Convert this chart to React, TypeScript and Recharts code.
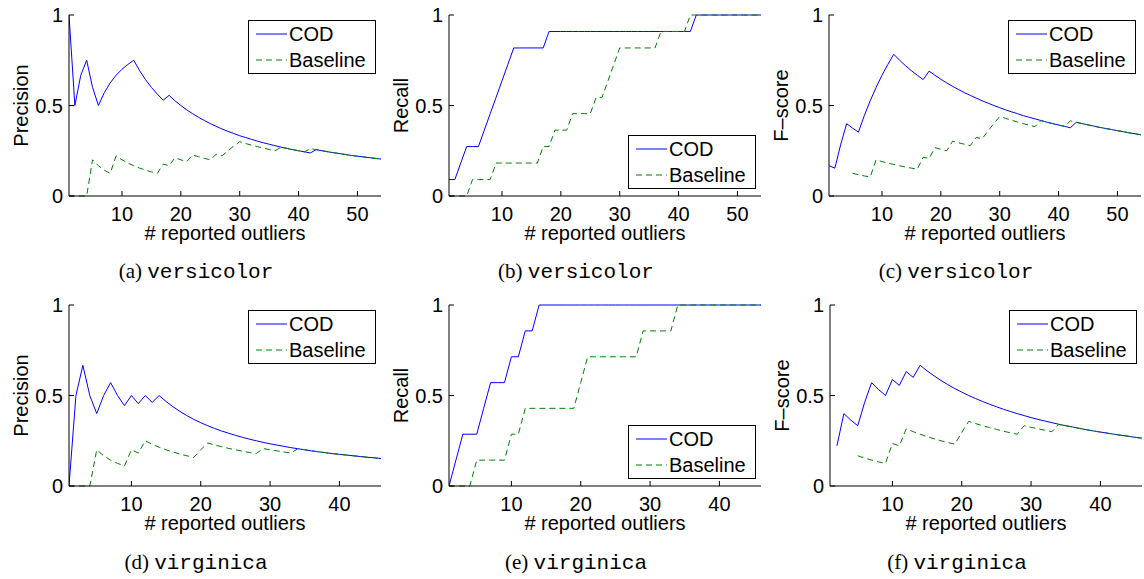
import React from "react";
import { Legend, Line, LineChart, XAxis, YAxis } from "recharts";

// # reported outliers
const versicolorK = [
  1, 2, 3, 4, 5, 6, 7, 8, 9, 10, 11, 12, 13, 14, 15, 16, 17, 18, 19, 20, 21, 22, 23, 24, 25, 26, 27,
  28, 29, 30, 31, 32, 33, 34, 35, 36, 37, 38, 39, 40, 41, 42, 43, 44, 45, 46, 47, 48, 49, 50, 51, 52,
  53, 54,
];
const virginicaK = [
  1, 2, 3, 4, 5, 6, 7, 8, 9, 10, 11, 12, 13, 14, 15, 16, 17, 18, 19, 20, 21, 22, 23, 24, 25, 26, 27,
  28, 29, 30, 31, 32, 33, 34, 35, 36, 37, 38, 39, 40, 41, 42, 43, 44, 45, 46,
];

// versicolor
const versicolorCodPrecision = [
  1.0, 0.5, 0.667, 0.75, 0.6, 0.5, 0.571, 0.625, 0.667, 0.7, 0.727, 0.75, 0.692, 0.643, 0.6, 0.563,
  0.529, 0.556, 0.526, 0.5, 0.476, 0.455, 0.435, 0.417, 0.4, 0.385, 0.37, 0.357, 0.345, 0.333, 0.323,
  0.313, 0.303, 0.294, 0.286, 0.278, 0.27, 0.263, 0.256, 0.25, 0.244, 0.238, 0.256, 0.25, 0.244, 0.239,
  0.234, 0.229, 0.224, 0.22, 0.216, 0.212, 0.208, 0.204,
];
const versicolorBasePrecision = [
  0, 0, 0, 0, 0.2, 0.167, 0.143, 0.125, 0.222, 0.2, 0.182, 0.167, 0.154, 0.143, 0.133, 0.125, 0.176,
  0.167, 0.211, 0.2, 0.19, 0.227, 0.217, 0.208, 0.2, 0.231, 0.222, 0.25, 0.276, 0.3, 0.29, 0.281, 0.273,
  0.265, 0.257, 0.25, 0.27, 0.263, 0.256, 0.25, 0.244, 0.262, 0.256, 0.25, 0.244, 0.239, 0.234, 0.229,
  0.224, 0.22, 0.216, 0.212, 0.208, 0.204,
];
const versicolorCodRecall = [
  0.091, 0.091, 0.182, 0.273, 0.273, 0.273, 0.364, 0.455, 0.545, 0.636, 0.727, 0.818, 0.818, 0.818,
  0.818, 0.818, 0.818, 0.909, 0.909, 0.909, 0.909, 0.909, 0.909, 0.909, 0.909, 0.909, 0.909, 0.909,
  0.909, 0.909, 0.909, 0.909, 0.909, 0.909, 0.909, 0.909, 0.909, 0.909, 0.909, 0.909, 0.909, 0.909, 1,
  1, 1, 1, 1, 1, 1, 1, 1, 1, 1, 1,
];
const versicolorBaseRecall = [
  0, 0, 0, 0, 0.091, 0.091, 0.091, 0.091, 0.182, 0.182, 0.182, 0.182, 0.182, 0.182, 0.182, 0.182,
  0.273, 0.273, 0.364, 0.364, 0.364, 0.455, 0.455, 0.455, 0.455, 0.545, 0.545, 0.636, 0.727, 0.818,
  0.818, 0.818, 0.818, 0.818, 0.818, 0.818, 0.909, 0.909, 0.909, 0.909, 0.909, 1, 1, 1, 1, 1, 1, 1, 1,
  1, 1, 1, 1, 1,
];
const versicolorCodF = [
  0.167, 0.154, 0.286, 0.4, 0.375, 0.353, 0.444, 0.526, 0.6, 0.667, 0.727, 0.783, 0.75, 0.72, 0.692,
  0.667, 0.643, 0.69, 0.667, 0.645, 0.625, 0.606, 0.588, 0.571, 0.556, 0.541, 0.526, 0.513, 0.5, 0.488,
  0.476, 0.465, 0.455, 0.444, 0.435, 0.426, 0.417, 0.408, 0.4, 0.392, 0.385, 0.377, 0.407, 0.4, 0.393,
  0.386, 0.379, 0.373, 0.367, 0.361, 0.355, 0.349, 0.344, 0.338,
];
const versicolorBaseF = [
  null, null, null, null, 0.125, 0.118, 0.111, 0.105, 0.2, 0.19, 0.182, 0.174, 0.167, 0.16, 0.154,
  0.148, 0.214, 0.207, 0.267, 0.258, 0.25, 0.303, 0.294, 0.286, 0.278, 0.324, 0.316, 0.359, 0.4, 0.439,
  0.429, 0.419, 0.409, 0.4, 0.391, 0.383, 0.417, 0.408, 0.4, 0.392, 0.385, 0.415, 0.407, 0.4, 0.393,
  0.386, 0.379, 0.373, 0.367, 0.361, 0.355, 0.349, 0.344, 0.338,
];

// virginica
const virginicaCodPrecision = [
  0, 0.5, 0.667, 0.5, 0.4, 0.5, 0.571, 0.5, 0.444, 0.5, 0.455, 0.5, 0.462, 0.5, 0.467, 0.438, 0.412,
  0.389, 0.368, 0.35, 0.333, 0.318, 0.304, 0.292, 0.28, 0.269, 0.259, 0.25, 0.241, 0.233, 0.226, 0.219,
  0.212, 0.206, 0.2, 0.194, 0.189, 0.184, 0.179, 0.175, 0.171, 0.167, 0.163, 0.159, 0.156, 0.152,
];
const virginicaBasePrecision = [
  0, 0, 0, 0, 0.2, 0.167, 0.143, 0.125, 0.111, 0.2, 0.182, 0.25, 0.231, 0.214, 0.2, 0.188, 0.176, 0.167,
  0.158, 0.2, 0.238, 0.227, 0.217, 0.208, 0.2, 0.192, 0.185, 0.179, 0.207, 0.2, 0.194, 0.188, 0.182,
  0.206, 0.2, 0.194, 0.189, 0.184, 0.179, 0.175, 0.171, 0.167, 0.163, 0.159, 0.156, 0.152,
];
const virginicaCodRecall = [
  0, 0.143, 0.286, 0.286, 0.286, 0.429, 0.571, 0.571, 0.571, 0.714, 0.714, 0.857, 0.857, 1, 1, 1, 1, 1,
  1, 1, 1, 1, 1, 1, 1, 1, 1, 1, 1, 1, 1, 1, 1, 1, 1, 1, 1, 1, 1, 1, 1, 1, 1, 1, 1, 1,
];
const virginicaBaseRecall = [
  0, 0, 0, 0, 0.143, 0.143, 0.143, 0.143, 0.143, 0.286, 0.286, 0.429, 0.429, 0.429, 0.429, 0.429, 0.429,
  0.429, 0.429, 0.571, 0.714, 0.714, 0.714, 0.714, 0.714, 0.714, 0.714, 0.714, 0.857, 0.857, 0.857,
  0.857, 0.857, 1, 1, 1, 1, 1, 1, 1, 1, 1, 1, 1, 1, 1,
];
const virginicaCodF = [
  null, 0.222, 0.4, 0.364, 0.333, 0.462, 0.571, 0.533, 0.5, 0.588, 0.556, 0.632, 0.6, 0.667, 0.636,
  0.609, 0.583, 0.56, 0.538, 0.519, 0.5, 0.483, 0.467, 0.452, 0.438, 0.424, 0.412, 0.4, 0.389, 0.378,
  0.368, 0.359, 0.35, 0.341, 0.333, 0.326, 0.318, 0.311, 0.304, 0.298, 0.292, 0.286, 0.28, 0.275, 0.269,
  0.264,
];
const virginicaBaseF = [
  null, null, null, null, 0.167, 0.154, 0.143, 0.133, 0.125, 0.235, 0.222, 0.316, 0.3, 0.286, 0.273,
  0.261, 0.25, 0.24, 0.231, 0.296, 0.357, 0.345, 0.333, 0.323, 0.313, 0.303, 0.294, 0.286, 0.333, 0.324,
  0.316, 0.308, 0.3, 0.341, 0.333, 0.326, 0.318, 0.311, 0.304, 0.298, 0.292, 0.286, 0.28, 0.275, 0.269,
  0.264,
];

const versicolorTicks = [10, 20, 30, 40, 50];
const virginicaTicks = [10, 20, 30, 40];
const yTicks = [0, 0.5, 1];

const BLUE = "#0000ff";
const GREEN = "#008000";
const SANS = "'Liberation Sans', Arial, Helvetica, sans-serif";

// plot-box geometry (MATLAB axes), in page pixels
const PLOT_W = 312;
const PLOT_H = 181;
const PAD_L = 69;
const PAD_T = 15;

type Num = number | null;

function LegendBox() {
  const row = (label: string, color: string, dash?: string) => (
    <div style={{ display: "flex", alignItems: "center", height: 26 }}>
      <svg width={40} height={26} style={{ display: "block" }}>
        <line x1={7} x2={38} y1={13} y2={13} stroke={color} strokeWidth={1} strokeDasharray={dash} />
      </svg>
      <span style={{ fontSize: 20, lineHeight: "26px", color: "#000" }}>{label}</span>
    </div>
  );
  return (
    <div
      style={{
        width: 126,
        height: 52,
        border: "1px solid #000",
        background: "#fff",
        fontFamily: SANS,
      }}
    >
      {row("COD", BLUE)}
      {row("Baseline", GREEN, "6 4")}
    </div>
  );
}

function Panel(props: {
  left: number;
  top: number;
  k: number[];
  cod: Num[];
  base: Num[];
  yLabel: string;
  xMax: number;
  xTicks: number[];
  legendTop: number;
  letter: string;
  flower: string;
  captionTop: number;
}) {
  const { left, top, k, cod, base, yLabel, xMax, xTicks, legendTop, letter, flower, captionTop } = props;
  const rows = k.map((x, i) => ({ k: x, cod: cod[i], base: base[i] }));
  const axisTick = { fill: "#000", fontSize: 20, fontFamily: SANS };

  return (
    <>
      <div style={{ position: "absolute", left: left - PAD_L, top: top - PAD_T }}>
        <LineChart
          width={PAD_L + PLOT_W + 4}
          height={PAD_T + PLOT_H + 60}
          data={rows}
          margin={{ top: PAD_T, right: 4, bottom: 10, left: PAD_L - 55 }}
          style={{ fontFamily: SANS }}
        >
          <XAxis
            xAxisId="b"
            dataKey="k"
            type="number"
            domain={[1, xMax]}
            ticks={xTicks}
            allowDataOverflow
            height={50}
            stroke="#000"
            tickSize={-5}
            tickMargin={16}
            tick={axisTick}
            label={{ value: "# reported outliers", position: "insideBottom", offset: 6, fill: "#000", fontSize: 20 }}
          />
          <XAxis
            xAxisId="t"
            dataKey="k"
            orientation="top"
            type="number"
            domain={[1, xMax]}
            ticks={xTicks}
            allowDataOverflow
            height={0}
            stroke="#000"
            tickSize={-5}
            tick={false}
          />
          <YAxis
            yAxisId="l"
            type="number"
            domain={[0, 1]}
            ticks={yTicks}
            width={55}
            stroke="#000"
            tickSize={-5}
            tickMargin={11}
            tick={axisTick}
            label={{
              value: yLabel,
              angle: -90,
              position: "insideLeft",
              offset: 7,
              fill: "#000",
              fontSize: 20,
              style: { textAnchor: "middle" },
            }}
          />
          <YAxis
            yAxisId="r"
            orientation="right"
            type="number"
            domain={[0, 1]}
            ticks={yTicks}
            width={0}
            stroke="#000"
            tickSize={-5}
            tick={false}
          />
          <Line
            xAxisId="b"
            yAxisId="l"
            type="linear"
            dataKey="cod"
            stroke={BLUE}
            strokeWidth={1}
            dot={false}
            activeDot={false}
            isAnimationActive={false}
          />
          <Line
            xAxisId="b"
            yAxisId="l"
            type="linear"
            dataKey="base"
            stroke={GREEN}
            strokeWidth={1}
            strokeDasharray="6 4"
            dot={false}
            activeDot={false}
            isAnimationActive={false}
          />
          <Legend
            layout="vertical"
            align="center"
            verticalAlign="middle"
            content={() => <LegendBox />}
            wrapperStyle={{ left: PAD_L + 179, top: legendTop, width: 128, height: 54 }}
          />
        </LineChart>
      </div>
      <div
        style={{
          position: "absolute",
          left: left + 127 - 150,
          width: 300,
          top: captionTop,
          textAlign: "center",
          fontSize: 21,
          lineHeight: "24px",
          whiteSpace: "nowrap",
          color: "#000",
        }}
      >
        <span style={{ fontFamily: "'Liberation Serif', 'Times New Roman', serif" }}>({letter}) </span>
        <span style={{ fontFamily: "'Liberation Mono', 'Courier New', monospace" }}>{flower}</span>
      </div>
    </>
  );
}

export default function App() {
  return (
    <div
      style={{
        position: "absolute",
        left: 0,
        top: 0,
        width: 1144,
        height: 579,
        background: "#fff",
        overflow: "hidden",
      }}
    >
      <Panel left={69} top={15} k={versicolorK} cod={versicolorCodPrecision} base={versicolorBasePrecision}
        yLabel="Precision" xMax={54} xTicks={versicolorTicks} legendTop={20} letter="a" flower="versicolor" captionTop={259} />
      <Panel left={449} top={15} k={versicolorK} cod={versicolorCodRecall} base={versicolorBaseRecall}
        yLabel="Recall" xMax={54} xTicks={versicolorTicks} legendTop={135} letter="b" flower="versicolor" captionTop={259} />
      <Panel left={829} top={15} k={versicolorK} cod={versicolorCodF} base={versicolorBaseF}
        yLabel="F–score" xMax={54} xTicks={versicolorTicks} legendTop={20} letter="c" flower="versicolor" captionTop={259} />
      <Panel left={69} top={305} k={virginicaK} cod={virginicaCodPrecision} base={virginicaBasePrecision}
        yLabel="Precision" xMax={46} xTicks={virginicaTicks} legendTop={20} letter="d" flower="virginica" captionTop={550} />
      <Panel left={449} top={305} k={virginicaK} cod={virginicaCodRecall} base={virginicaBaseRecall}
        yLabel="Recall" xMax={46} xTicks={virginicaTicks} legendTop={135} letter="e" flower="virginica" captionTop={550} />
      <Panel left={830} top={305} k={virginicaK} cod={virginicaCodF} base={virginicaBaseF}
        yLabel="F–score" xMax={46} xTicks={virginicaTicks} legendTop={20} letter="f" flower="virginica" captionTop={550} />
    </div>
  );
}
